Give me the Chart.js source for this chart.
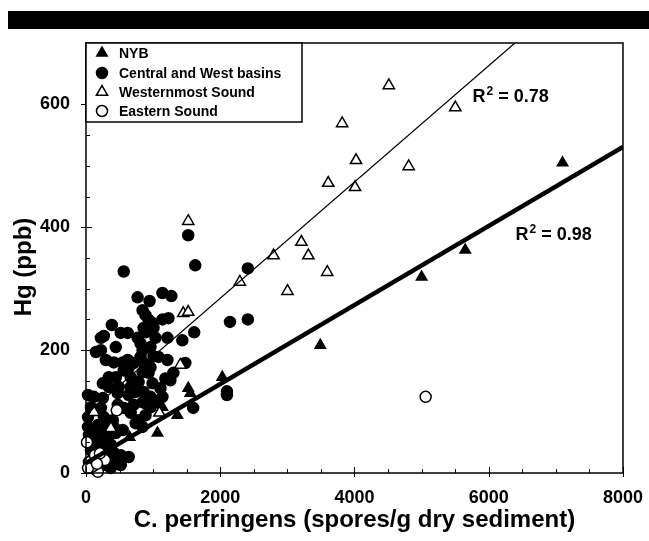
<!DOCTYPE html>
<html lang="en">
<head>
<meta charset="UTF-8">
<title>Hg vs C. perfringens</title>
<script src="https://cdn.jsdelivr.net/npm/chart.js"></script>
<style>
  body { margin: 0; background: #fff; }
  #wrap { position: absolute; left: 0; top: 0; width: 649px; height: 541px; }
  #topBar { position: absolute; left: 8px; top: 11px; width: 641px; height: 18px; background: #000; }
</style>
</head>
<body>
<div id="wrap"><canvas id="hgChart" width="649" height="541"></canvas></div>
<div id="topBar"></div>
<script>
    // axis ticks
    const xTicks = [0, 2000, 4000, 6000, 8000];
    const yTicks = [0, 200, 400, 600];

    const seriesNames = ['NYB', 'Central and West basins', 'Westernmost Sound', 'Eastern Sound'];

    // [spores/g, Hg ppb]
    const nyb = [
        [7100, 505], [5650, 363], [5000, 319], [3490, 208], [2030, 156], [1523, 138], [1553, 130],
        [1139, 107], [1361, 94], [1065, 65], [932, 110], [650, 58], [460, 70], [300, 40], [200, 45], [100, 30]
    ];
    const centralWest = [
        [1523, 387], [1627, 338], [562, 328], [2411, 333], [769, 286], [947, 280], [1139, 293], [1272, 288],
        [843, 265], [887, 257], [932, 249], [991, 244], [1139, 250], [1228, 252], [385, 241], [518, 228],
        [621, 228], [858, 236], [887, 229], [1006, 236], [222, 220], [266, 223], [444, 205], [769, 220],
        [813, 211], [843, 200], [961, 205], [1035, 220], [1213, 220], [148, 197], [222, 200], [2145, 246],
        [2411, 250], [1612, 229], [1435, 216],
        [1006, 190], [296, 184], [414, 180], [547, 180], [621, 184], [710, 179], [813, 189], [858, 179],
        [961, 172], [1080, 189], [1213, 184],
        [562, 167], [636, 171], [340, 156], [444, 156], [666, 156], [843, 164], [932, 163], [1183, 154], [1302, 163],
        [251, 146], [340, 140], [488, 140], [666, 140], [784, 148], [991, 146], [1109, 138], [1257, 151],
        [30, 127], [118, 124], [251, 122], [473, 130], [636, 127], [740, 132], [858, 132], [961, 124],
        [1035, 115], [1139, 124],
        [74, 107], [222, 106], [473, 111], [562, 106], [710, 111], [843, 115], [961, 107],
        [30, 91], [266, 91], [399, 86], [666, 98], [784, 86], [887, 94],
        [30, 75], [177, 78], [296, 73], [414, 75], [547, 70], [740, 81], [843, 75],
        [44, 62], [177, 59], [325, 57], [444, 65], [192, 49], [370, 46],
        [414, 33], [518, 29], [636, 26],
        [1597, 106], [2100, 133], [2100, 127], [1479, 179],
        [74, 37], [148, 46], [222, 21], [296, 13], [370, 8], [148, 5], [44, 18], [444, 18], [518, 13],
        [251, 29], [74, 54], [222, 70], [118, 67]
    ];
    const westernmost = [
        [4511, 631], [5502, 595], [3816, 569], [4023, 509], [4807, 499], [3609, 472], [4008, 465],
        [3209, 376], [2795, 354], [3313, 354], [3594, 327], [3002, 296], [2292, 311], [1449, 260],
        [1523, 262], [1523, 410], [1405, 176], [1094, 98], [118, 99], [370, 73]
    ];
    const eastern = [
        [5060, 124], [458, 102], [15, 50], [281, 21], [177, 2], [59, 18], [133, 29], [207, 32],
        [103, 11], [30, 8], [163, 15]
    ];

    // regression line end points
    const nybFit = [[0, 16], [8000, 531]];
    const westFit = [[0, 95], [6390, 700]];

    const r2Notes = [
        { value: '0.78', x: 5760, y: 615 },
        { value: '0.98', x: 6400, y: 390 }
    ];

    const FONT = '"Liberation Sans", Arial, Helvetica, sans-serif';
    Chart.defaults.font.family = FONT;
    Chart.defaults.font.weight = 'bold';
    Chart.defaults.color = '#000';

    const pts = arr => arr.map(p => ({ x: p[0], y: p[1] }));

    const markerStyles = [
        { pointStyle: 'triangle', radius: 6, fill: '#000' },
        { pointStyle: 'circle', radius: 5.5, fill: '#000' },
        { pointStyle: 'triangle', radius: 6.5, fill: '#fff' },
        { pointStyle: 'circle', radius: 5.5, fill: '#fff' }
    ];

    function scatterSet(i, data, order) {
        const m = markerStyles[i];
        return {
            type: 'scatter',
            label: seriesNames[i],
            data: pts(data),
            pointStyle: m.pointStyle,
            pointRadius: m.radius,
            pointBackgroundColor: m.fill,
            pointBorderColor: '#000',
            pointBorderWidth: 1.5,
            order: order,
            clip: false
        };
    }

    function fitSet(data, width) {
        return {
            type: 'line',
            label: '',
            data: pts(data),
            borderColor: '#000',
            borderWidth: width,
            pointRadius: 0,
            fill: false,
            order: 0
        };
    }

    // frame plus inward minor ticks
    const frameTicks = {
        id: 'frameTicks',
        afterDatasetsDraw(chart) {
            const { ctx, chartArea: a, scales: { x, y } } = chart;
            ctx.save();
            ctx.strokeStyle = '#000';
            ctx.lineWidth = 1.5;
            ctx.strokeRect(a.left, a.top, a.right - a.left, a.bottom - a.top);
            ctx.lineWidth = 1;
            ctx.beginPath();
            for (let v = 0; v <= 8000; v += 500) {
                const px = Math.round(x.getPixelForValue(v)) + 0.5;
                const major = xTicks.includes(v);
                ctx.moveTo(px, a.bottom + (major ? 4 : 0));
                ctx.lineTo(px, a.bottom - (major ? 6 : 4));
            }
            for (let v = 0; v <= 700; v += 50) {
                const py = Math.round(y.getPixelForValue(v)) + 0.5;
                const major = yTicks.includes(v);
                ctx.moveTo(a.left - (major ? 5 : 0), py);
                ctx.lineTo(a.left + (major ? 6 : 4), py);
            }
            ctx.stroke();
            ctx.restore();
        }
    };

    // boxed legend in the upper left corner
    const boxLegend = {
        id: 'boxLegend',
        afterDraw(chart) {
            const { ctx, chartArea: a } = chart;
            const right = 302, bottom = 122;
            ctx.save();
            ctx.fillStyle = '#fff';
            ctx.fillRect(a.left, a.top, right - a.left, bottom - a.top);
            ctx.strokeStyle = '#000';
            ctx.lineWidth = 1.5;
            ctx.strokeRect(a.left, a.top, right - a.left, bottom - a.top);
            const rows = [53, 73, 92, 111];
            ctx.font = 'bold 14px ' + FONT;
            ctx.textBaseline = 'middle';
            seriesNames.forEach((name, i) => {
                const m = markerStyles[i];
                ctx.fillStyle = m.fill;
                ctx.strokeStyle = '#000';
                ctx.lineWidth = 1.5;
                Chart.helpers.drawPoint(ctx, {
                    pointStyle: m.pointStyle, radius: m.radius, rotation: 0, borderWidth: 1.5
                }, 102, rows[i]);
                ctx.fillStyle = '#000';
                ctx.fillText(name, 119, rows[i] + 1);
            });
            ctx.restore();
        }
    };

    // R-squared notes and rotated y title
    const notes = {
        id: 'notes',
        afterDraw(chart) {
            const { ctx, scales: { x, y } } = chart;
            ctx.save();
            ctx.fillStyle = '#000';
            ctx.textBaseline = 'alphabetic';
            r2Notes.forEach(n => {
                let px = x.getPixelForValue(n.x);
                const py = y.getPixelForValue(n.y) + 7;
                ctx.font = 'bold 18px ' + FONT;
                ctx.fillText('R', px, py);
                px += ctx.measureText('R').width + 1;
                ctx.font = 'bold 12px ' + FONT;
                ctx.fillText('2', px, py - 7);
                px += ctx.measureText('2').width;
                ctx.font = 'bold 18px ' + FONT;
                ctx.fillText(' = ' + n.value, px, py);
            });
            ctx.translate(24, 267);
            ctx.rotate(-Math.PI / 2);
            ctx.font = 'bold 24px ' + FONT;
            ctx.textAlign = 'center';
            ctx.textBaseline = 'middle';
            ctx.fillText('Hg (ppb)', 0, 0);
            ctx.restore();
        }
    };

    new Chart(document.getElementById('hgChart'), {
        type: 'scatter',
        data: {
            datasets: [
                fitSet(nybFit, 4.5),
                fitSet(westFit, 1.2),
                scatterSet(3, eastern, 1),
                scatterSet(2, westernmost, 2),
                scatterSet(0, nyb, 3),
                scatterSet(1, centralWest, 4)
            ]
        },
        options: {
            responsive: false,
            animation: false,
            layout: { padding: { top: 43, right: 23, left: 0, bottom: 0 } },
            plugins: {
                legend: { display: false },
                tooltip: { enabled: false }
            },
            scales: {
                x: {
                    type: 'linear',
                    min: 0,
                    max: 8000,
                    afterBuildTicks: s => { s.ticks = xTicks.map(v => ({ value: v })); },
                    afterFit: s => { s.height = 68; },
                    grid: { display: false },
                    border: { display: false },
                    ticks: {
                        font: { size: 18, weight: 'bold' },
                        padding: 6,
                        maxRotation: 0,
                        callback: v => String(v)
                    },
                    title: {
                        display: true,
                        text: 'C. perfringens (spores/g dry sediment)',
                        font: { size: 24, weight: 'bold' },
                        padding: { top: 0, bottom: 6 }
                    }
                },
                y: {
                    type: 'linear',
                    min: 0,
                    max: 700,
                    afterBuildTicks: s => { s.ticks = yTicks.map(v => ({ value: v })); },
                    afterFit: s => { s.width = 86; },
                    grid: { display: false },
                    border: { display: false },
                    ticks: { font: { size: 18, weight: 'bold' }, padding: 8, callback: v => String(v) }
                }
            }
        },
        plugins: [frameTicks, boxLegend, notes]
    });
</script>
</body>
</html>
